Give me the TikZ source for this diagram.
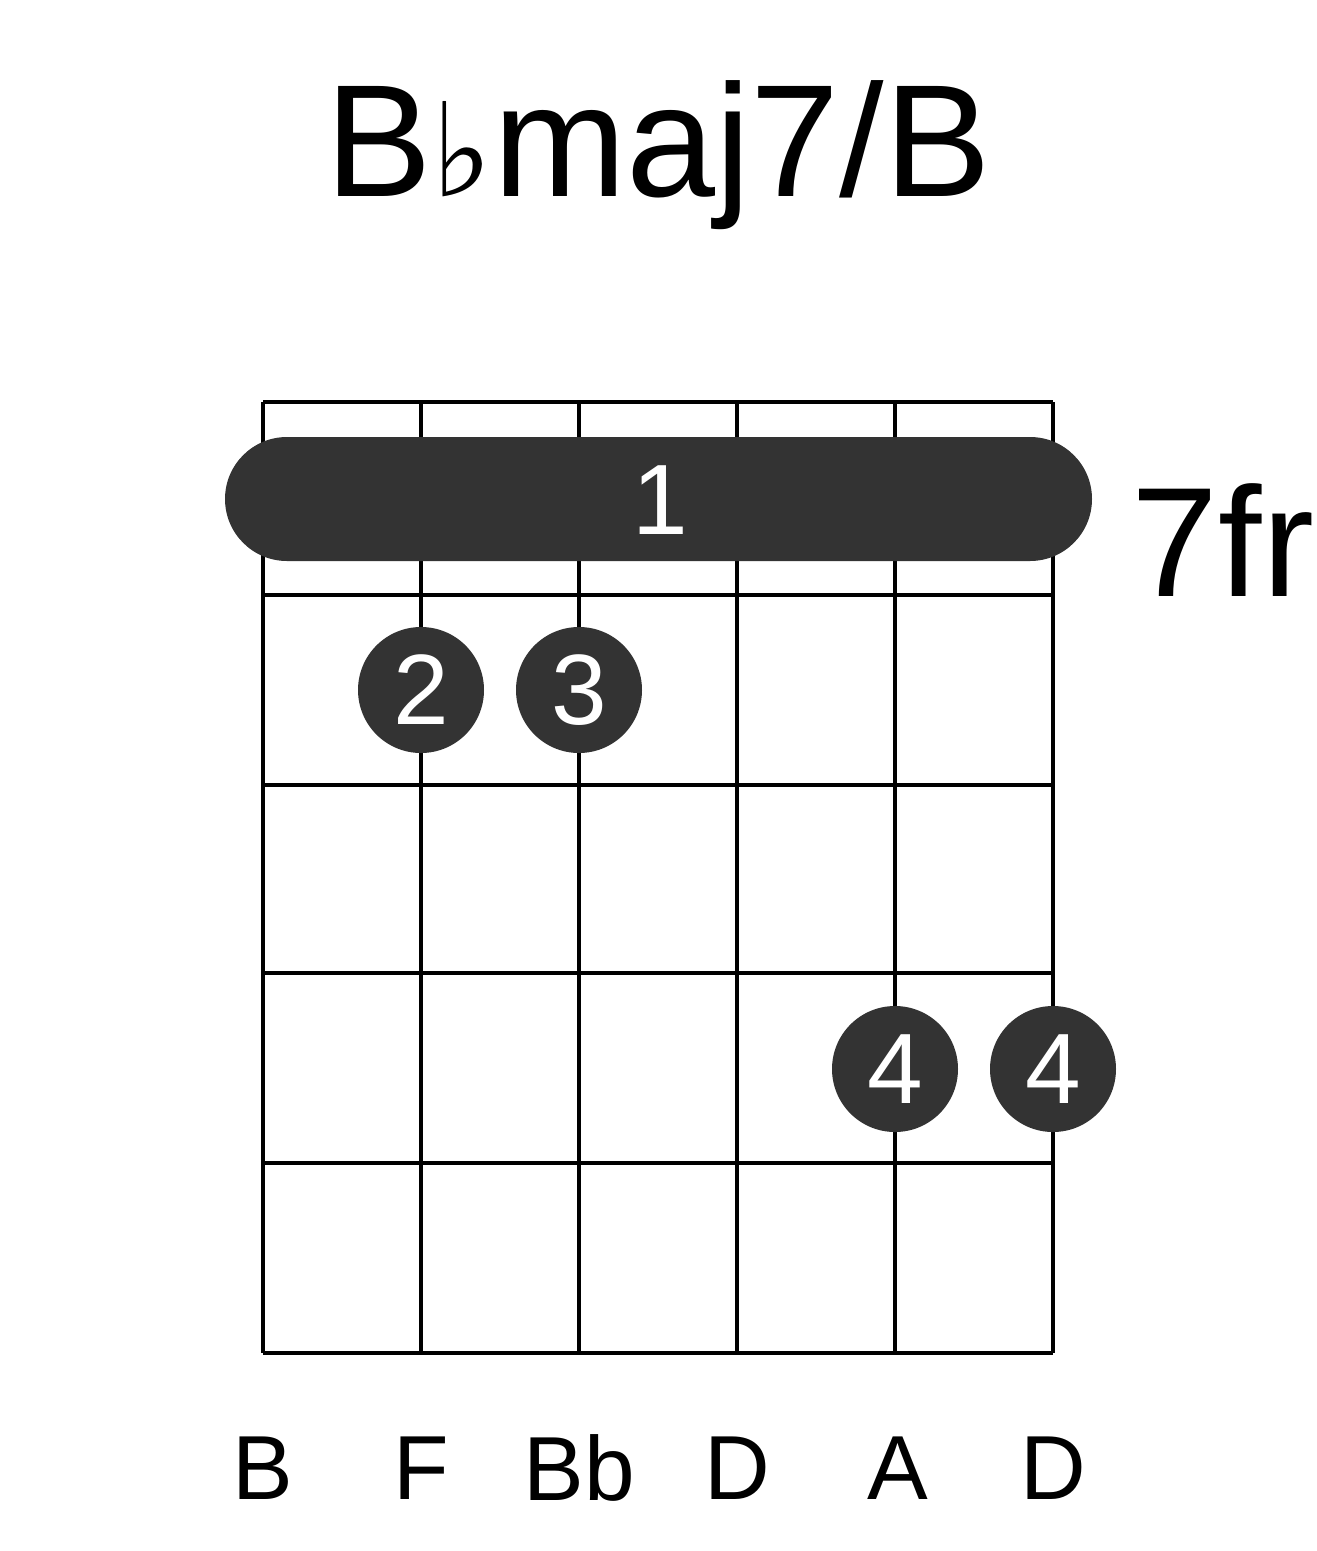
\documentclass[tikz,border=0pt]{standalone}
\usepackage{fontspec}
\setmainfont{Liberation Sans}
\newfontfamily\flatfont{DejaVu Sans}
\usetikzlibrary{positioning}
\definecolor{dotgray}{HTML}{333333}
\tikzset{
 fretline/.style={line width=4pt,black},
 fingerdot/.style={circle,fill=dotgray,minimum size=126pt,inner sep=0pt,text=white,font=\fontsize{100}{100}\selectfont},
 notelabel/.style={font=\fontsize{91}{91}\selectfont}
}
\begin{document}
\begin{tikzpicture}[x=1pt,y=-1pt]
 \useasboundingbox (0,0) rectangle (1317,1551);
 % title
 \node (title) at (658,155) {\fontsize{160}{160}\selectfont B{\flatfont\fontsize{130}{130}\selectfont ♭}maj7/B};
 % grid
 \foreach \x in {263,421,579,737,895,1053} \draw[fretline] (\x,402) -- (\x,1353);
 \foreach \y in {402,595,785,973,1163,1353} \draw[fretline] (263,\y) -- (1053,\y);
 % barre
 \fill[dotgray,rounded corners=62pt] (225,437) rectangle (1092,561);
 \node[text=white,font=\fontsize{100}{100}\selectfont] (barre) at (660,500) {1};
 \node[font=\fontsize{156}{156}\selectfont] (fret) at (1223,540) {7fr};
 % fingers
 \node[fingerdot] (f2) at (421,690) {2};
 \node[fingerdot] (f3) at (579,690) {3};
 \node[fingerdot] (f4a) at (895,1069) {4};
 \node[fingerdot] (f4b) at (1053,1069) {4};
 % notes
 \node[notelabel] (n1) at (263,1468) {B};
 \node[notelabel] (n2) at (421,1468) {F};
 \node[notelabel] (n3) at (579,1468) {Bb};
 \node[notelabel] (n4) at (737,1468) {D};
 \node[notelabel] (n5) at (898,1468) {A};
 \node[notelabel] (n6) at (1053,1468) {D};
\end{tikzpicture}
\end{document}
